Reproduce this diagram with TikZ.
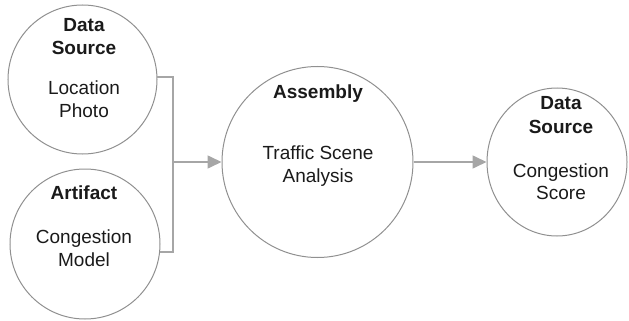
\documentclass[tikz,border=0pt]{standalone}
\usepackage{fontspec}
\setmainfont{Liberation Sans}
\usetikzlibrary{arrows.meta,shapes.geometric}
\definecolor{circgray}{HTML}{909090}
\definecolor{conngray}{HTML}{A6A6A6}
\definecolor{txt}{HTML}{1A1A1A}
\tikzset{
  circ/.style={circle, draw=circgray, line width=1pt, inner sep=0pt, minimum size=#1},
  ell/.style={ellipse, draw=circgray, line width=1pt, inner sep=0pt},
  ttl/.style={font=\fontsize{19}{23}\selectfont\bfseries, text=txt, anchor=base, inner sep=0pt},
  dsc/.style={font=\fontsize{19}{23}\selectfont, text=txt, anchor=base, inner sep=0pt},
  conn/.style={draw=conngray, line width=1.6pt},
  arr/.style={conn, -{Triangle[length=14pt,width=13pt]}},
}
\begin{document}
\begin{tikzpicture}[x=1pt,y=-1pt]
\useasboundingbox (0,0) rectangle (629,321);
% circles
\node[circ=149pt] (A) at (82.5,79.5) {};
\node[circ=150pt] (B) at (85,244) {};
\node[circ=191pt] (C) at (317.5,162) {};
\node[ell, minimum width=140pt, minimum height=148pt] (D) at (557,162) {};
% texts
\node[ttl] (a1) at (84,32) {Data};
\node[ttl] (a2) at (84,55) {Source};
\node[dsc] (a3) at (84,94.5) {Location};
\node[dsc] (a4) at (84,117.5) {Photo};
\node[ttl] (b1) at (84,199) {Artifact};
\node[dsc] (b2) at (84,243) {Congestion};
\node[dsc] (b3) at (84,266) {Model};
\node[ttl] (c1) at (318,98) {Assembly};
\node[dsc] (c2) at (318,159) {Traffic Scene};
\node[dsc] (c3) at (318,182) {Analysis};
\node[ttl] (d1) at (561,110) {Data};
\node[ttl] (d2) at (561,133) {Source};
\node[dsc] (d3) at (561,177) {Congestion};
\node[dsc] (d4) at (561,199.5) {Score};
% connectors
\coordinate (J) at (173,162);
\draw[conn] (A.2) -- (A.2 -| J) -- (B.-6 -| J) -- (B.-6);
\draw[arr] (J) -- (C.west);
\draw[arr] (C.east) -- (D.west);
\end{tikzpicture}
\end{document}
